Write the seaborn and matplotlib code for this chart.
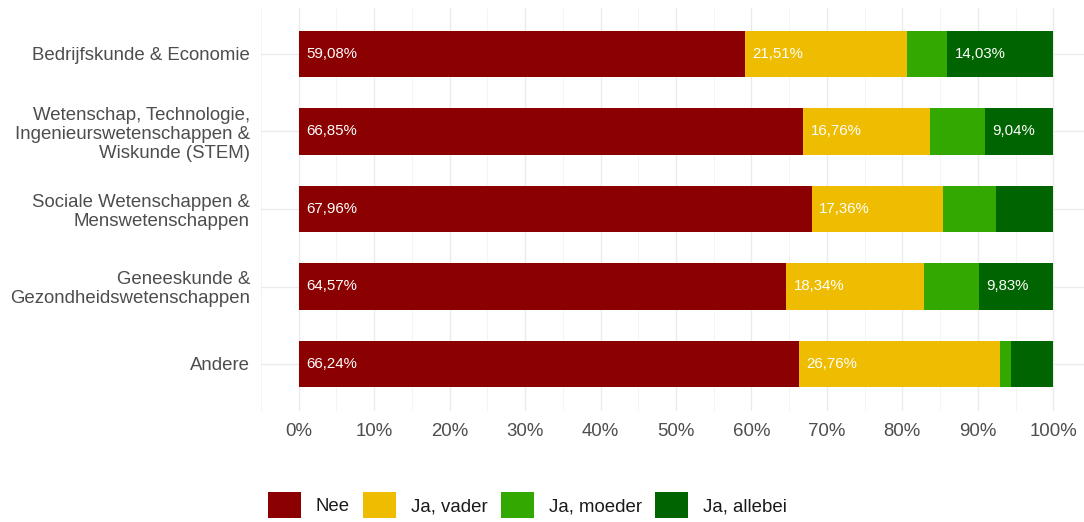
import numpy as np
import pandas as pd
import matplotlib
matplotlib.use("Agg")
import matplotlib.pyplot as plt
from matplotlib.patches import Patch
from matplotlib.ticker import MultipleLocator, FuncFormatter
import seaborn as sns

# Study fields (top to bottom)
fields = [
    "Bedrijfskunde & Economie",
    "Wetenschap, Technologie,\nIngenieurswetenschappen &\nWiskunde (STEM)",
    "Sociale Wetenschappen &\nMenswetenschappen",
    "Geneeskunde &\nGezondheidswetenschappen",
    "Andere",
]

# Response groups and their shares (%) per field
groups = ["Nee", "Ja, vader", "Ja, moeder", "Ja, allebei"]
nee = [59.08, 66.85, 67.96, 64.57, 66.24]
ja_vader = [21.51, 16.76, 17.36, 18.34, 26.76]
ja_moeder = [5.38, 7.35, 7.15, 7.26, 1.40]
ja_allebei = [14.03, 9.04, 7.53, 9.83, 5.60]

colors = ["#8B0000", "#EEBC00", "#33A800", "#006400"]

sns.set_theme(style="white")
plt.rcParams["font.family"] = ["Liberation Sans", "DejaVu Sans"]

shares = np.array([nee, ja_vader, ja_moeder, ja_allebei])
cum = np.cumsum(shares, axis=0)
starts = cum - shares

df = pd.DataFrame({"field": fields})
for g, c in zip(groups, cum):
    df[g] = c

fig = plt.figure(figsize=(10.84, 5.22), dpi=100)
ax = fig.add_axes([261 / 1084, 1 - 410.5 / 522, 830 / 1084, 403 / 522])

# Stacked bars: draw cumulative totals from the longest down
for g, col in reversed(list(zip(groups, colors))):
    sns.barplot(data=df, x=g, y="field", order=fields, color=col,
                saturation=1, width=0.6, linewidth=0, orient="h", ax=ax,
                zorder=3)

# Value labels on segments that are wide enough
for i in range(len(groups)):
    for j in range(len(fields)):
        v = shares[i, j]
        if v >= 8:
            ax.text(starts[i, j] + 1.0, j, f"{v:.2f}%".replace(".", ","),
                    color="white", fontsize=10.8, va="center", ha="left",
                    zorder=5)

ax.set_xlim(-5, 105)
ax.set_ylim(len(fields) - 1 + 0.6, -0.6)
ax.xaxis.set_major_locator(MultipleLocator(10))
ax.xaxis.set_minor_locator(MultipleLocator(5))
ax.xaxis.set_major_formatter(FuncFormatter(lambda x, p: f"{x:.0f}%"))
ax.grid(True, which="major", axis="both", color="#EBEBEB", linewidth=1.0, zorder=0)
ax.grid(True, which="minor", axis="x", color="#F2F2F2", linewidth=0.6, zorder=0)
ax.set_axisbelow(True)
for s in ax.spines.values():
    s.set_visible(False)
ax.set_xlabel("")
ax.set_ylabel("")
ax.tick_params(axis="both", which="both", length=0, labelsize=13.4,
               labelcolor="#4D4D4D")
ax.tick_params(axis="x", pad=9)
ax.tick_params(axis="y", pad=8)
for lab in ax.get_yticklabels():
    lab.set_linespacing(1.15)

handles = [Patch(facecolor=c, edgecolor="none") for c in colors]
fig.legend(handles, groups, loc="upper left",
           bbox_to_anchor=(268 / 1084, 1 - 492 / 522), ncol=4, frameon=False,
           fontsize=13.4, handlelength=1.77, handleheight=1.77,
           handletextpad=0.8, columnspacing=0.72, borderpad=0,
           borderaxespad=0, labelcolor="#1A1A1A")

fig.savefig("out.png", dpi=100)
